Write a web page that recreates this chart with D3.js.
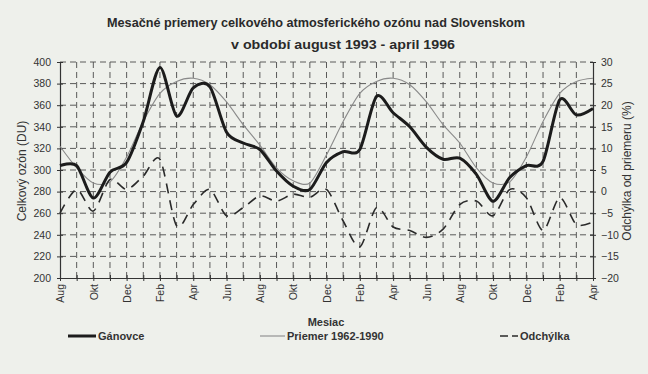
<!DOCTYPE html>
<html>
<head>
<meta charset="utf-8">
<script src="https://cdn.jsdelivr.net/npm/d3@7"></script>
<style>
  body { margin: 0; background: #eef0eb; }
  svg { display: block; font-family: "Liberation Sans", Arial, sans-serif; }
</style>
</head>
<body>
<div id="chart"></div>
<script>
// months Aug 1993 .. Apr 1996
const months = ["Aug","Sep","Okt","Nov","Dec","Jan","Feb","Mar","Apr","Maj","Jun","Jul",
                "Aug","Sep","Okt","Nov","Dec","Jan","Feb","Mar","Apr","Maj","Jun","Jul",
                "Aug","Sep","Okt","Nov","Dec","Jan","Feb","Mar","Apr"]
const ganovce = [304,304,274,298,307,345,395,350,376,377,335,325,
                 319,299,285,282,307,317,319,368,353,340,321,310,
                 311,296,271,293,304,308,365,351,357]
const priemer = [322,302,288,289,312,345,371,382,385,379,363,342,
                 323,302,290,288,314,345,371,382,385,379,363,342,
                 325,302,288,289,312,345,371,382,385]
const odchylka = [-5,0.5,-4.5,2.8,0.5,3.6,7.5,-7.9,-3,0.5,-5.6,-3.7,
                  -1,-2.2,-0.6,-1.3,0.5,-6.8,-12.8,-3.7,-8.2,-9,-10.6,-8.7,
                  -3,-2.2,-5.6,0.5,-1.4,-9,-1.4,-7.6,-7]
const leftTicks = [200,220,240,260,280,300,320,340,360,380,400]
const rightTicks = [-20,-15,-10,-5,0,5,10,15,20,25,30]

const width = 648, height = 374
const m = {left: 60, right: 593, top: 62, bottom: 278}

const svg = d3.select("#chart").append("svg")
    .attr("width", width).attr("height", height)

const idx = d3.range(months.length)
const x = d3.scaleLinear().domain([0, months.length - 1]).range([m.left, m.right])
const y = d3.scaleLinear().domain([200, 400]).range([m.bottom, m.top])
const y2 = d3.scaleLinear().domain([-20, 30]).range([m.bottom, m.top])

// grid
svg.append("g").selectAll("line").data(leftTicks.slice(1))
  .enter().append("line")
    .attr("x1", m.left).attr("x2", m.right)
    .attr("y1", d => y(d)).attr("y2", d => y(d))
    .attr("stroke", "#4a4a4a").attr("stroke-width", 0.9)
    .attr("stroke-dasharray", "6,4")
svg.append("g").selectAll("line").data(idx.slice(1, -1))
  .enter().append("line")
    .attr("x1", d => x(d)).attr("x2", d => x(d))
    .attr("y1", m.top).attr("y2", m.bottom)
    .attr("stroke", "#4a4a4a").attr("stroke-width", 0.9)
    .attr("stroke-dasharray", "6,4")

// axes
const yAxis = d3.axisLeft(y).tickValues(leftTicks).tickSizeInner(3).tickSizeOuter(0).tickPadding(6)
svg.append("g").attr("transform", `translate(${m.left},0)`).call(yAxis)
const yAxis2 = d3.axisRight(y2).tickValues(rightTicks).tickSizeInner(3).tickSizeOuter(0).tickPadding(5)
svg.append("g").attr("transform", `translate(${m.right},0)`).call(yAxis2)
const xAxis = d3.axisBottom(x).tickValues(idx).tickSizeInner(3).tickSizeOuter(0)
    .tickFormat(i => i % 2 === 0 ? months[i] : "")
const gx = svg.append("g").attr("transform", `translate(0,${m.bottom})`).call(xAxis)
gx.selectAll("text")
    .attr("transform", "rotate(-90)")
    .attr("text-anchor", "end")
    .attr("x", -6).attr("y", 0).attr("dy", "0.35em")

svg.selectAll(".domain").attr("stroke", "#333").attr("stroke-width", 1.2)
svg.selectAll(".tick line").attr("stroke", "#333").attr("y1", function() {
  return null
})
// ticks crossing the axis lines
svg.selectAll("g .tick line").each(function() {
  const l = d3.select(this)
  if (l.attr("x2") && +l.attr("x2") !== 0) {
    const v = +l.attr("x2"); l.attr("x1", -v)
  }
  if (l.attr("y2") && +l.attr("y2") !== 0) {
    const v = +l.attr("y2"); l.attr("y1", -v)
  }
})
svg.selectAll(".tick text").attr("font-size", 10.5).attr("fill", "#333")
  .attr("font-family", "'Liberation Sans', Arial, sans-serif")

// lines
const curve = d3.curveCardinal.tension(0.15)
const lineL = (arr) => d3.line().x((d, i) => x(i)).y(d => y(d)).curve(curve)(arr)
const lineR = (arr) => d3.line().x((d, i) => x(i)).y(d => y2(d)).curve(curve)(arr)

svg.append("path").attr("d", lineL(priemer))
    .attr("fill", "none").attr("stroke", "#8a8a8a").attr("stroke-width", 1.1)
svg.append("path").attr("d", lineR(odchylka))
    .attr("fill", "none").attr("stroke", "#2a2a2a").attr("stroke-width", 1.6)
    .attr("stroke-dasharray", "10,7")
svg.append("path").attr("d", lineL(ganovce))
    .attr("fill", "none").attr("stroke", "#1c1c1c").attr("stroke-width", 3)

// titles
svg.append("text").attr("x", 316).attr("y", 27).attr("text-anchor", "middle")
    .attr("font-size", 13.5).attr("font-weight", "bold").attr("fill", "#2a2a2a")
    .attr("textLength", 418).attr("lengthAdjust", "spacingAndGlyphs")
    .text("Mesačné priemery celkového atmosferického ozónu nad Slovenskom")
svg.append("text").attr("x", 343).attr("y", 49).attr("text-anchor", "middle")
    .attr("font-size", 13.5).attr("font-weight", "bold").attr("fill", "#2a2a2a")
    .attr("textLength", 224).attr("lengthAdjust", "spacingAndGlyphs")
    .text("v období august 1993 - april 1996")

svg.append("text").attr("transform", "translate(26,171) rotate(-90)")
    .attr("text-anchor", "middle").attr("font-size", 12).attr("fill", "#333")
    .text("Celkový ozón (DU)")
svg.append("text").attr("transform", "translate(631,171) rotate(-90)")
    .attr("text-anchor", "middle").attr("font-size", 12).attr("fill", "#333")
    .text("Odchýlka od priemeru (%)")
svg.append("text").attr("x", 326).attr("y", 326).attr("text-anchor", "middle")
    .attr("font-size", 11).attr("font-weight", "bold").attr("fill", "#333")
    .text("Mesiac")

// legend
const legend = [
  {name: "Gánovce", x1: 68, x2: 96, color: "#1c1c1c", w: 3, dash: null},
  {name: "Priemer 1962-1990", x1: 260, x2: 285, color: "#8a8a8a", w: 1.1, dash: null},
  {name: "Odchýlka", x1: 500, x2: 518, color: "#2a2a2a", w: 1.6, dash: "8,4"}
]
const lg = svg.append("g").selectAll("g").data(legend).enter().append("g")
lg.append("line").attr("x1", d => d.x1).attr("x2", d => d.x2)
    .attr("y1", 336).attr("y2", 336)
    .attr("stroke", d => d.color).attr("stroke-width", d => d.w)
    .attr("stroke-dasharray", d => d.dash)
lg.append("text").attr("x", d => d.x2 + 2).attr("y", 340)
    .attr("font-size", 11).attr("font-weight", "bold").attr("fill", "#333")
    .text(d => d.name)
</script>
</body>
</html>
